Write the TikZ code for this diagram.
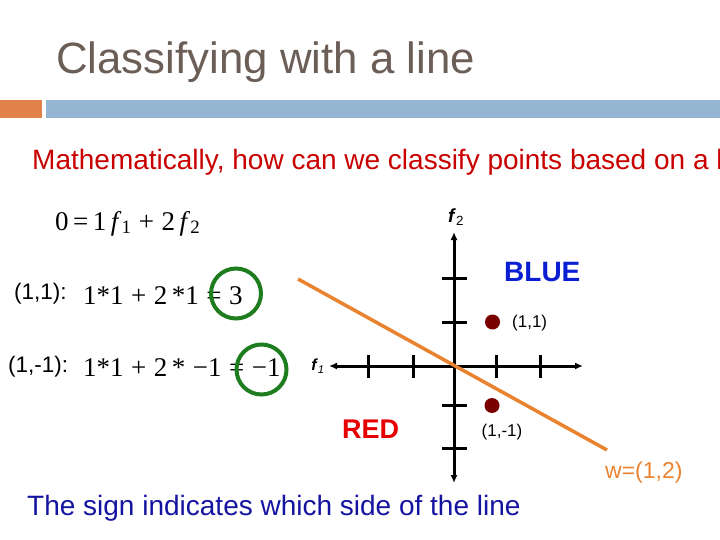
\documentclass[tikz,border=0pt]{standalone}
\usepackage{fontspec}
\setmainfont{Liberation Sans}
\newfontfamily\eqfont{Liberation Serif}
\usetikzlibrary{arrows.meta}

\definecolor{titlegray}{HTML}{6B5E56}
\definecolor{barorange}{HTML}{E0824A}
\definecolor{barblue}{HTML}{94B6D2}
\definecolor{askred}{HTML}{C80000}
\definecolor{ringgreen}{HTML}{1E7D1E}
\definecolor{lineorange}{HTML}{EA8330}
\definecolor{dotred}{HTML}{7A0000}
\definecolor{blueside}{HTML}{0A1ED2}
\definecolor{redside}{HTML}{E60000}
\definecolor{notenavy}{HTML}{1414A0}

\newcommand{\fs}[1]{\textit{f}\textsubscript{#1}}
\newcommand{\px}[1]{\fontsize{#1}{#1}\selectfont}

\tikzset{
  txt/.style={anchor=base west, inner sep=0pt},
  eqn/.style={txt, font=\eqfont\px{27}},
  ptlabel/.style={txt, font=\px{22.5}},
  ring/.style={draw=ringgreen, line width=4pt, circle, inner sep=0pt, minimum size=50pt},
  axis/.style={line width=3pt},
  tick/.style={line width=3pt},
  dot/.style={circle, fill=dotred, inner sep=0pt, minimum size=15pt},
}

\begin{document}
\begin{tikzpicture}[x=1pt, y=-1pt, >={Latex[length=8pt,width=7pt]}]

  \useasboundingbox (0,0) rectangle (720,540);
  \clip (0,0) rectangle (720,540);

  % title and the two bars under it
  \node[txt, text=titlegray, font=\px{43.8}] (title) at (56,74) {Classifying with a line};
  \fill[barorange] (0,100) rectangle (42,118);
  \fill[barblue] (46,100) rectangle (720,118);

  % the question runs off the right edge of the slide
  \node[txt, text=askred, font=\px{28}] (ask) at (32,170)
    {Mathematically, how can we classify points based on a line?};

  % the line and the two points put through it
  \node[eqn] (line0) at (55,230) {0\,=\,1\,\fs{1}\;+\;2\,\fs{2}};

  \node[ptlabel] (lab11) at (14,299) {(1,1):};
  \node[eqn] (eq11) at (83,304) {1*1\;+\;2\,*1\;=\;3};
  \node[ring] (ring11) at (236,293.5) {};

  \node[ptlabel] (lab1m) at (8,372) {(1,-1):};
  \node[eqn] (eq1m) at (83,376) {1*1\;+\;2\,*\;−1\;=\;−1};
  \node[ring] (ring1m) at (261.5,369.5) {};

  % the axes
  \coordinate (O) at (454,366);
  \draw[axis, <->] (329,366) -- (583,366);
  \draw[axis, <->] (454,232) -- (454,483);
  \foreach \x in {368,413,496,540}{
    \draw[tick] (\x,355) -- (\x,378);
  }
  \foreach \y in {278,322,405,448}{
    \draw[tick] (442,\y) -- (467,\y);
  }
  \node[font=\px{19}] (f2) at (456,217) {\textbf{\textit{f}}\textsubscript{2}};
  \node[font=\px{16}] (f1) at (318,366) {\textbf{\textit{f}}\textsubscript{\textit{1}}};

  % the separating line
  \coordinate (lineA) at (298,279);
  \coordinate (lineB) at (607,450);
  \draw[lineorange, line width=3.5pt] (lineA) -- (lineB);
  \node[txt, text=lineorange, font=\px{23}] (w) at (605,478) {w=(1,2)};

  % the two sides and the points
  \node[txt, text=blueside, font=\px{28}\bfseries] (blue) at (504,281) {BLUE};
  \node[txt, text=redside, font=\px{27}\bfseries] (red) at (342,438) {RED};

  \node[dot] (p11) at (492.5,322) {};
  \node[txt, font=\px{17}] (p11lab) at (512,327) {(1,1)};
  \node[dot] (p1m) at (492,405.5) {};
  \node[anchor=base, inner sep=0pt, font=\px{17}] (p1mlab) at (502,436) {(1,-1)};

  \node[txt, text=notenavy, font=\px{28}] (note) at (27,515)
    {The sign indicates which side of the line};

\end{tikzpicture}
\end{document}
